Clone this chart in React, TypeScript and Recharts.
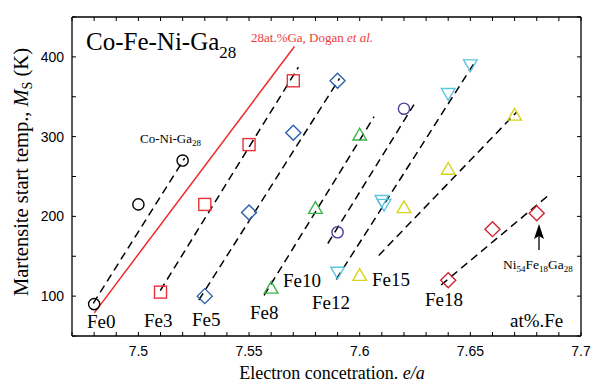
import React from 'react';
import { ScatterChart, Scatter, XAxis, YAxis, ReferenceLine, Customized } from 'recharts';

// ---- axis ticks ----
const xTicks = [7.47, 7.48, 7.49, 7.5, 7.51, 7.52, 7.53, 7.54, 7.55, 7.56, 7.57, 7.58, 7.59, 7.6, 7.61, 7.62, 7.63, 7.64, 7.65, 7.66, 7.67, 7.68, 7.69, 7.7];
const xTickLabels = ['7.5', '7.55', '7.6', '7.65', '7.7'];
const yTicks = [50, 100, 150, 200, 250, 300, 350, 400, 450];
const yTickLabels = ['100', '200', '300', '400'];

// ---- series (e/a, Ms) ----
const coNiGaX = [7.48, 7.5, 7.52];
const coNiGaY = [90, 215, 270];
const fe3X = [7.51, 7.53, 7.55, 7.57];
const fe3Y = [105, 215, 290, 370];
const fe5X = [7.53, 7.55, 7.57, 7.59];
const fe5Y = [100, 205, 305, 370];
const fe10X = [7.56, 7.58, 7.6];
const fe10Y = [110, 210, 302];
const fe12X = [7.59, 7.62];
const fe12Y = [180, 335];
const fe12bX = [7.59, 7.61, 7.611, 7.64, 7.65];
const fe12bY = [130, 220, 215, 354, 390];
const fe15X = [7.6, 7.62, 7.64, 7.67];
const fe15Y = [126, 211, 259, 327];
const fe18X = [7.64, 7.66, 7.68];
const fe18Y = [120, 184, 204];

// ---- dashed fit lines ----
const fitX1 = [7.4796, 7.5099, 7.5273, 7.5568, 7.5856, 7.5894, 7.6086, 7.6368];
const fitY1 = [91, 107, 95, 101, 166, 121, 151, 114];
const fitX2 = [7.5209, 7.5723, 7.5909, 7.6065, 7.6245, 7.6526, 7.671, 7.686];
const fitY2 = [273, 387, 373, 325, 340, 396, 331, 228];

// ---- Dogan et al. line ----
const doganX = [7.4801, 7.5705];
const doganY = [79, 413];

const pts = (xs: number[], ys: number[]) => xs.map((x, i) => ({ x, y: ys[i] }));

const SW = 1.4;
const circleShape = (color: string) => (p: any) => (
  <circle cx={p.cx} cy={p.cy} r={5.6} fill="none" stroke={color} strokeWidth={SW} />
);
const squareShape = (color: string) => (p: any) => (
  <rect x={p.cx - 6} y={p.cy - 6} width={12} height={12} fill="none" stroke={color} strokeWidth={SW} />
);
const diamondShape = (color: string) => (p: any) => (
  <polygon
    points={`${p.cx},${p.cy - 7.5} ${p.cx + 7.5},${p.cy} ${p.cx},${p.cy + 7.5} ${p.cx - 7.5},${p.cy}`}
    fill="none" stroke={color} strokeWidth={SW} />
);
const triUpShape = (color: string) => (p: any) => (
  <polygon
    points={`${p.cx},${p.cy - 6.8} ${p.cx + 6.8},${p.cy + 5} ${p.cx - 6.8},${p.cy + 5}`}
    fill="none" stroke={color} strokeWidth={SW} />
);
const triDownShape = (color: string) => (p: any) => (
  <polygon
    points={`${p.cx},${p.cy + 6.8} ${p.cx + 6.8},${p.cy - 5} ${p.cx - 6.8},${p.cy - 5}`}
    fill="none" stroke={color} strokeWidth={SW} />
);

const SERIF = '"Liberation Serif", "Times New Roman", serif';
const SANS = '"Liberation Sans", Arial, sans-serif';

const Annotations = () => (
  <g fontFamily={SERIF} fill="#000">
    <text x={86} y={50} fontSize={25}>
      Co-Fe-Ni-Ga<tspan fontSize={17} dy={8}>28</tspan>
    </text>
    <text x={251} y={42} fontSize={13} fill="#ee3a3a">
      28at.%Ga, Dogan <tspan fontStyle="italic">et al.</tspan>
    </text>
    <text x={140} y={143} fontSize={13}>
      Co-Ni-Ga<tspan fontSize={9} dy={3}>28</tspan>
    </text>
    <text x={87} y={328} fontSize={19}>Fe0</text>
    <text x={144} y={327} fontSize={19}>Fe3</text>
    <text x={192} y={326} fontSize={19}>Fe5</text>
    <text x={250} y={319} fontSize={19}>Fe8</text>
    <text x={283} y={287} fontSize={19}>Fe10</text>
    <text x={312} y={309} fontSize={19}>Fe12</text>
    <text x={372} y={286} fontSize={19}>Fe15</text>
    <text x={425} y={306} fontSize={19}>Fe18</text>
    <text x={510} y={327} fontSize={19}>at%.Fe</text>
    <text x={503} y={269} fontSize={13.5}>
      Ni<tspan fontSize={9} dy={3}>54</tspan>
      <tspan dy={-3}>Fe</tspan><tspan fontSize={9} dy={3}>18</tspan>
      <tspan dy={-3}>Ga</tspan><tspan fontSize={9} dy={3}>28</tspan>
    </text>
    <line x1={539} y1={250} x2={539} y2={232} stroke="#000" strokeWidth={1.3} />
    <polygon points="539,224 534,239 539,236 544,239" fill="#000" />
    <text x={332} y={379} fontSize={18} textAnchor="middle">
      Electron concetration. <tspan fontStyle="italic">e/a</tspan>
    </text>
    <text transform="translate(27.5,172) rotate(-90)" fontSize={20.5} textAnchor="middle">
      Martensite start temp., <tspan fontStyle="italic">M</tspan>
      <tspan fontSize={14} dy={4}>S</tspan>
      <tspan dy={-4}> (K)</tspan>
    </text>
  </g>
);

const fmtX = (v: number) => (xTickLabels.includes(String(v)) ? String(v) : '');
const fmtY = (v: number) => (yTickLabels.includes(String(v)) ? String(v) : '');
const blank = () => '';

export default function App() {
  const axisLine = { stroke: '#000', strokeWidth: 1.3 };
  const tickLine = { stroke: '#000', strokeWidth: 1 };
  return (
    <div style={{ position: 'absolute', left: 0, top: 0, background: '#fff' }}>
      <ScatterChart width={593} height={387} margin={{ top: 16, right: 11, bottom: 0, left: 0 }}>
        <XAxis xAxisId="b" type="number" dataKey="x" domain={[7.47, 7.7]} allowDataOverflow
          ticks={xTicks} interval={0} height={51} tickSize={-4} tickMargin={14}
          tickFormatter={fmtX} axisLine={axisLine} tickLine={tickLine}
          tick={{ fontFamily: SANS, fontSize: 14, fill: '#000' }} />
        <XAxis xAxisId="t" orientation="top" type="number" dataKey="x" domain={[7.47, 7.7]} allowDataOverflow
          ticks={xTicks} interval={0} height={1} tickSize={-4}
          tickFormatter={blank} axisLine={axisLine} tickLine={tickLine} tick={{ fontSize: 1 }} />
        <YAxis yAxisId="l" type="number" dataKey="y" domain={[50, 450]} allowDataOverflow
          ticks={yTicks} interval={0} width={72} tickSize={-4} tickMargin={12}
          tickFormatter={fmtY} axisLine={axisLine} tickLine={tickLine}
          tick={{ fontFamily: SANS, fontSize: 14, fill: '#000' }} />
        <YAxis yAxisId="r" orientation="right" type="number" dataKey="y" domain={[50, 450]} allowDataOverflow
          ticks={yTicks} interval={0} width={1} tickSize={-4}
          tickFormatter={blank} axisLine={axisLine} tickLine={tickLine} tick={{ fontSize: 1 }} />

        <ReferenceLine xAxisId="b" yAxisId="l" stroke="#ee2a2a" strokeWidth={1.5}
          segment={[{ x: doganX[0], y: doganY[0] }, { x: doganX[1], y: doganY[1] }]} />
        {fitX1.map((x, i) => (
          <ReferenceLine key={i} xAxisId="b" yAxisId="l" stroke="#000" strokeWidth={1.5} strokeDasharray="8 5"
            segment={[{ x, y: fitY1[i] }, { x: fitX2[i], y: fitY2[i] }]} />
        ))}

        <Scatter xAxisId="b" yAxisId="l" data={pts(coNiGaX, coNiGaY)} shape={circleShape('#000')} isAnimationActive={false} />
        <Scatter xAxisId="b" yAxisId="l" data={pts(fe3X, fe3Y)} shape={squareShape('#e8323a')} isAnimationActive={false} />
        <Scatter xAxisId="b" yAxisId="l" data={pts(fe5X, fe5Y)} shape={diamondShape('#2d5fae')} isAnimationActive={false} />
        <Scatter xAxisId="b" yAxisId="l" data={pts(fe10X, fe10Y)} shape={triUpShape('#3cb44a')} isAnimationActive={false} />
        <Scatter xAxisId="b" yAxisId="l" data={pts(fe12X, fe12Y)} shape={circleShape('#4a3c9c')} isAnimationActive={false} />
        <Scatter xAxisId="b" yAxisId="l" data={pts(fe12bX, fe12bY)} shape={triDownShape('#5cc6de')} isAnimationActive={false} />
        <Scatter xAxisId="b" yAxisId="l" data={pts(fe15X, fe15Y)} shape={triUpShape('#d6d41c')} isAnimationActive={false} />
        <Scatter xAxisId="b" yAxisId="l" data={pts(fe18X, fe18Y)} shape={diamondShape('#cc2430')} isAnimationActive={false} />

        <Customized component={Annotations} />
      </ScatterChart>
    </div>
  );
}
